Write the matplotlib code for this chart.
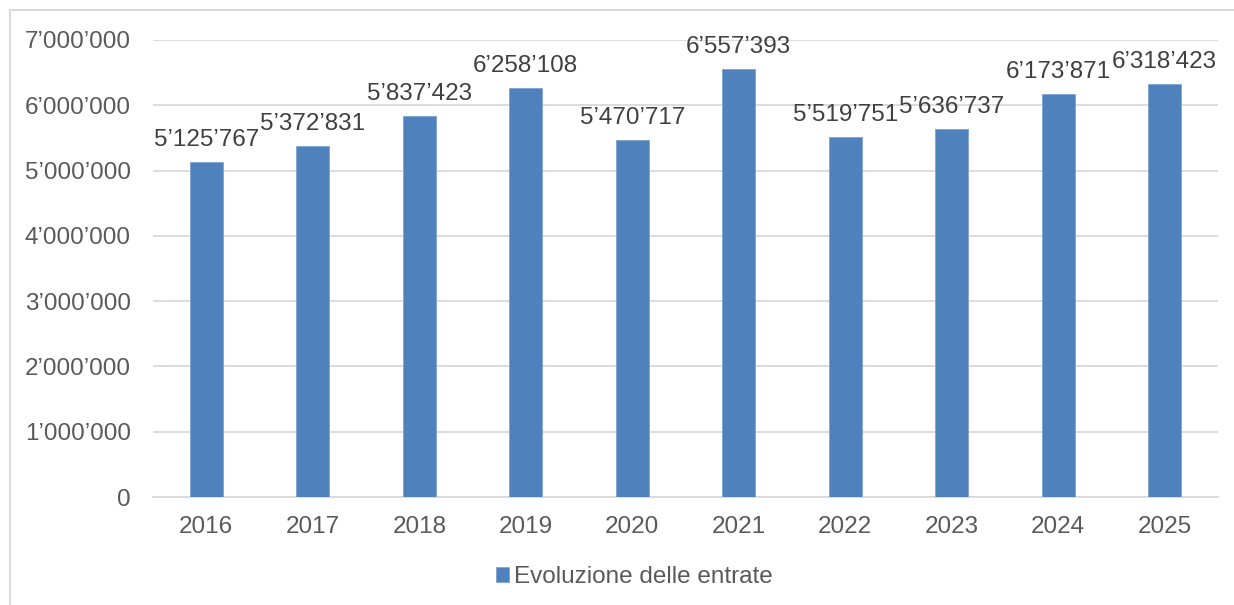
import matplotlib
matplotlib.use("Agg")
import matplotlib.pyplot as plt
from matplotlib.ticker import FuncFormatter, MultipleLocator
from matplotlib.lines import Line2D

years = ["2016", "2017", "2018", "2019", "2020", "2021", "2022", "2023", "2024", "2025"]
values = [5125767, 5372831, 5837423, 6258108, 5470717, 6557393, 5519751, 5636737, 6173871, 6318423]
series_name = "Evoluzione delle entrate"

plt.rcParams['font.family'] = ['Liberation Sans', 'DejaVu Sans']
FS = 17.5

def fmt(v):
    return f"{int(round(v)):,}".replace(",", "\u2019")

fig = plt.figure(figsize=(12.34, 6.05), dpi=100)
ax = fig.add_axes([153/1234, 1 - 497/605, (1218 - 153)/1234, (497 - 40)/605])

x = list(range(len(years)))
bars = ax.bar(x, values, width=0.31, color="#4F81BD", edgecolor="#7FA3D3", linewidth=0.6,
              label=series_name, zorder=3)

ax.set_xlim(-0.5, len(years) - 0.5)
ax.set_ylim(0, 7000000)
ax.yaxis.set_major_locator(MultipleLocator(1000000))
ax.yaxis.set_major_formatter(FuncFormatter(lambda v, p: fmt(v)))
ax.set_xticks(x)
ax.set_xticklabels(years)

ax.grid(axis='y', color="#D9D9D9", linewidth=1.3, zorder=0)
for s in ["top", "right", "left"]:
    ax.spines[s].set_visible(False)
ax.spines["bottom"].set_color("#D9D9D9")
ax.spines["bottom"].set_linewidth(1.3)
ax.tick_params(axis='both', length=0, labelsize=FS, colors="#595959")
ax.tick_params(axis='y', pad=16)
ax.tick_params(axis='x', pad=14)

for xi, v in zip(x, values):
    ax.annotate(fmt(v), (xi, v), xytext=(0, 8), textcoords="offset points",
                ha="center", va="bottom", fontsize=FS, color="#404040", zorder=4)

leg = fig.legend(handles=[bars], labels=[series_name], loc="center", bbox_to_anchor=(634/1234, 1 - 577/605),
                 frameon=False, fontsize=FS, handlelength=0.55, handleheight=0.55, handletextpad=0.2)
for t in leg.get_texts():
    t.set_color("#595959")

# outer chart border (partially visible)
fig.add_artist(Line2D([10/1234, 1.0], [1 - 10/605, 1 - 10/605], transform=fig.transFigure, color="#D9D9D9", linewidth=1.5))
fig.add_artist(Line2D([10/1234, 10/1234], [0.0, 1 - 10/605], transform=fig.transFigure, color="#D9D9D9", linewidth=1.5))

fig.savefig("out.png", dpi=100)
